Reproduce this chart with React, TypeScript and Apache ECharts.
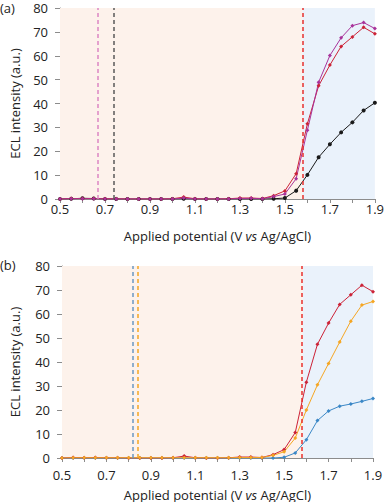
import React, { useEffect, useRef } from "react";
import * as echarts from "echarts";

const potentials = [0.5, 0.55, 0.6, 0.65, 0.7, 0.75, 0.8, 0.85, 0.9, 0.95, 1.0, 1.05, 1.1, 1.15, 1.2, 1.25, 1.3, 1.35, 1.4, 1.45, 1.5, 1.55, 1.6, 1.65, 1.7, 1.75, 1.8, 1.85, 1.9];

const topBlack = [0, 0.1, 0.3, 0.2, 0, 0, 0, 0, 0, 0, 0, 0.1, 0, 0, 0, 0, 0, 0, 0, 0.1, 0.4, 3.5, 10.1, 17.5, 22.9, 27.9, 32.1, 37.1, 40.3];
const topRed = [0, 0.2, 0.2, 0.2, 0.1, 0.1, 0, 0, 0, 0, 0.1, 0.8, 0.1, 0, 0, 0.1, 0.4, 0.4, 0.2, 1.4, 3.4, 10.6, 31.5, 47.4, 56.1, 63.9, 67.9, 71.9, 69.2];
const topPurple = [0, 0.1, 0.1, 0.1, 0, 0, 0, 0, 0, 0, 0, 0.4, 0, 0, 0, 0, 0.2, 0.3, 0.1, 1.0, 2.1, 8.5, 28.8, 48.9, 60.1, 67.5, 72.6, 73.9, 71.4];

const bottomBlue = [0, 0, 0, 0, 0, 0, 0, 0, 0, 0, 0, 0, 0, 0, 0, 0, 0, 0, 0, 0, 0.3, 2.1, 7.6, 15.6, 19.6, 21.6, 22.5, 23.6, 24.8];
const bottomRed = [0, 0.2, 0.1, 0.2, 0.1, 0.1, 0, 0, 0, 0, 0.1, 0.8, 0.1, 0, 0, 0.1, 0.4, 0.4, 0.2, 1.4, 3.5, 10.6, 31.6, 47.4, 56.2, 64.0, 68.0, 72.0, 69.3];
const bottomOrange = [0, 0.1, 0.1, 0.1, 0.1, 0.1, 0.1, 0.1, 0.1, 0.1, 0.1, 0.1, 0.1, 0.1, 0.1, 0.1, 0.2, 0.2, 0.2, 1.1, 2.6, 8.3, 20.0, 30.5, 39.4, 48.3, 57.0, 63.7, 65.2];

const topDashed = [
  { x: 0.667, color: "#dc86c4" },
  { x: 0.742, color: "#5a5a5a" },
  { x: 1.578, color: "#e8302e" },
];
const bottomDashed = [
  { x: 0.82, color: "#6a98c4" },
  { x: 0.84, color: "#f5a623" },
  { x: 1.584, color: "#e8302e" },
];
const regionSplit = [1.578, 1.584];

const FONT = "'Open Sans', 'Noto Sans', sans-serif";

function zip(ys: number[]) {
  return potentials.map((x, i) => [x, ys[i]]);
}

function xAxisCfg(gridIndex: number, labelMargin: number) {
  return {
    type: "value",
    gridIndex,
    min: 0.5,
    max: 1.9,
    interval: 0.1,
    name: "Applied potential (V {i|vs} Ag/AgCl)",
    nameLocation: "middle",
    nameGap: 30,
    nameTextStyle: {
      fontFamily: FONT,
      fontSize: 13,
      color: "#222",
      rich: { i: { fontStyle: "italic", fontFamily: FONT, fontSize: 13, color: "#222" } },
    },
    axisLine: { show: true, lineStyle: { color: "#8c8c8c", width: 1 } },
    axisTick: { show: true, length: 4, lineStyle: { color: "#8c8c8c" } },
    splitLine: { show: false },
    axisLabel: {
      fontFamily: FONT,
      fontSize: 13,
      color: "#222",
      margin: labelMargin,
      formatter: (v: number) => {
        const k = Math.round(v * 10);
        return k % 2 === 1 ? v.toFixed(1) : "";
      },
    },
  };
}

function yAxisCfg(gridIndex: number, nameGap: number) {
  return {
    type: "value",
    gridIndex,
    min: 0,
    max: 80,
    interval: 10,
    name: "ECL intensity (a.u.)",
    nameLocation: "middle",
    nameGap,
    nameTextStyle: { fontFamily: FONT, fontSize: 13, color: "#222" },
    axisLine: { show: true, lineStyle: { color: "#8c8c8c", width: 1 } },
    axisTick: { show: true, length: 5, lineStyle: { color: "#8c8c8c" } },
    splitLine: { show: false },
    axisLabel: { fontFamily: FONT, fontSize: 13, color: "#222", margin: 12 },
  };
}

function lineSeries(idx: number, ys: number[], color: string, symbol: string, extra: any = {}) {
  return {
    type: "line",
    xAxisIndex: idx,
    yAxisIndex: idx,
    data: zip(ys),
    symbol,
    symbolSize: 4,
    showSymbol: true,
    lineStyle: { color, width: 1 },
    itemStyle: { color },
    ...extra,
  };
}

function decorations(dashed: { x: number; color: string }[], split: number) {
  return {
    markArea: {
      silent: true,
      data: [
        [{ xAxis: 0.5, itemStyle: { color: "#fdf2eb" } }, { xAxis: split }],
        [{ xAxis: split, itemStyle: { color: "#eaf2fb" } }, { xAxis: 1.9 }],
      ],
    },
    markLine: {
      silent: true,
      symbol: ["none", "none"],
      label: { show: false },
      data: dashed.map((d) => ({
        xAxis: d.x,
        lineStyle: { color: d.color, type: [4, 3], width: 1.5 },
      })),
    },
  };
}

export default function App() {
  const ref = useRef<HTMLDivElement>(null);
  useEffect(() => {
    document.body.style.margin = "0";
    const chart = echarts.init(ref.current!, null, { renderer: "svg" });
    chart.setOption({
      animation: false,
      backgroundColor: "#ffffff",
      textStyle: { fontFamily: FONT },
      grid: [
        { left: 59, right: 9, top: 8, height: 191 },
        { left: 55, right: 14, top: 266, height: 192 },
      ],
      xAxis: [xAxisCfg(0, 3), xAxisCfg(1, 10)],
      yAxis: [yAxisCfg(0, 39), yAxisCfg(1, 41)],
      graphic: [
        { type: "text", left: 0, top: 1, style: { text: "(a)", font: `13px ${FONT}`, fill: "#222" } },
        { type: "text", left: 0, top: 258, style: { text: "(b)", font: `13px ${FONT}`, fill: "#222" } },
      ],
      series: [
        lineSeries(0, topBlack, "#1a1a1a", "circle", decorations(topDashed, regionSplit[0])),
        lineSeries(0, topRed, "#cc2236", "diamond"),
        lineSeries(0, topPurple, "#a8329a", "diamond"),
        lineSeries(1, bottomBlue, "#3a87c6", "diamond", decorations(bottomDashed, regionSplit[1])),
        lineSeries(1, bottomRed, "#cc2236", "diamond"),
        lineSeries(1, bottomOrange, "#f5a623", "diamond"),
      ],
    });
    return () => chart.dispose();
  }, []);
  return <div ref={ref} style={{ width: 387, height: 502 }} />;
}
